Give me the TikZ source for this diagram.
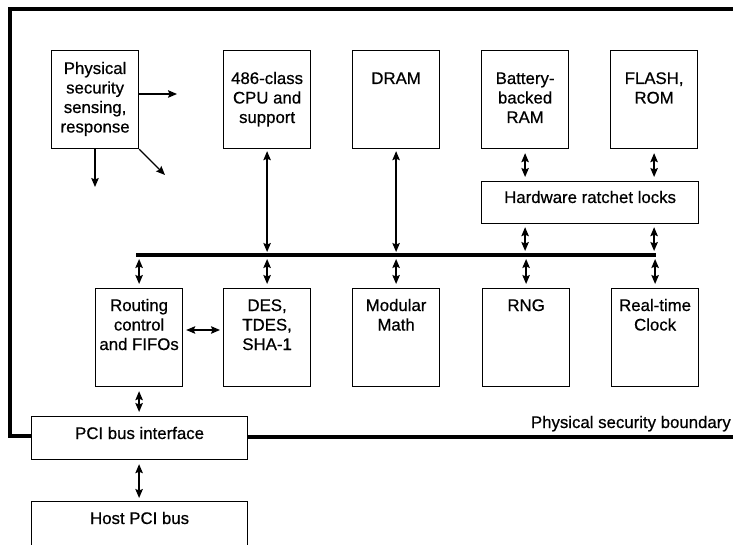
\documentclass[tikz,border=0pt]{standalone}
\usepackage{fontspec}
\setmainfont{Liberation Sans}
\newfontfamily\labelfont[FakeBold=0.6]{Liberation Sans}
\usetikzlibrary{arrows.meta,calc}

\begin{document}
\begin{tikzpicture}[x=1pt,y=-1pt,
  box/.style={draw, line width=1.2pt, inner sep=0pt, anchor=north west,
              minimum width=87pt, minimum height=98pt},
  widebox/.style={box, minimum width=216pt, minimum height=43pt},
  lbl/.style={inner sep=0pt, align=center, anchor=base,
              font=\labelfont\fontsize{16.8}{19.5}\selectfont},
  arr/.style={line width=1.3pt, -{Stealth[length=9pt,width=7.5pt,inset=1.5pt]}},
  link/.style={line width=1.3pt, {Stealth[length=9pt,width=7.5pt,inset=1.5pt]}-{Stealth[length=9pt,width=7.5pt,inset=1.5pt]},
               shorten <=4pt, shorten >=4pt},
  thick line/.style={line width=4pt}
]
\useasboundingbox (0,0) rectangle (733,545);
\clip (0,0) rectangle (733,545);

% upper row of modules
\node[box] (sense) at (51,50) {};
\node[box] (cpu)   at (223,50) {};
\node[box] (dram)  at (352,50) {};
\node[box] (bbram) at (481,50) {};
\node[box] (flash) at (610,50) {};

% labels: the base anchor sits on the baseline of the last line
\node[lbl] (sense-t) at ($(sense.north)+(0,82.5)$) {Physical\\security\\sensing,\\response};
\node[lbl] (cpu-t)   at ($(cpu.north)+(0,73)$)     {486-class\\CPU and\\support};
\node[lbl] (dram-t)  at ($(dram.north)+(0,34)$)    {DRAM};
\node[lbl] (bbram-t) at ($(bbram.north)+(0,73)$)   {Battery-\\backed\\RAM};
\node[lbl] (flash-t) at ($(flash.north)+(0,53.5)$) {FLASH,\\ROM};

% ratchet locks in front of the non-volatile memories
\node[box, minimum width=217pt, minimum height=42pt] (ratchet) at (481,181) {};
\node[lbl] (ratchet-t) at ($(ratchet.north)+(0,22)$) {Hardware ratchet locks};

% lower row of modules
\node[box] (route) at (95,288) {};
\node[box] (des)   at (223,288) {};
\node[box] (mmath) at (352,288) {};
\node[box] (rng)   at (482,288) {};
\node[box] (rtc)   at (611,288) {};

\node[lbl] (route-t) at ($(route.north)+(0,62)$)   {Routing\\control\\and FIFOs};
\node[lbl] (des-t)   at ($(des.north)+(0,62)$)     {DES,\\TDES,\\SHA-1};
\node[lbl] (mmath-t) at ($(mmath.north)+(0,42.5)$) {Modular\\Math};
\node[lbl] (rng-t)   at ($(rng.north)+(0,23)$)     {RNG};
\node[lbl] (rtc-t)   at ($(rtc.north)+(0,42.5)$)   {Real-time\\Clock};

% PCI interface and host bus
\node[widebox] (pci)  at (31,416) {};
\node[lbl] (pci-t) at ($(pci.north)+(0,23)$) {PCI bus interface};
\node[widebox, minimum height=70pt] (host) at (31,501) {};
\node[lbl] (host-t) at ($(host.north)+(0,23)$) {Host PCI bus};

% internal bus
\coordinate (busL) at (136,255);
\coordinate (busR) at (656,255);
\draw[thick line] (busL) -- (busR);

% security boundary
\coordinate (bndL) at (10,436);
\coordinate (bndTL) at (10,9);
\coordinate (bndTR) at (745,9);
\coordinate (bndR) at (745,437);
\draw[thick line] (pci.west |- bndL) -- (bndL) -- (bndTL) -- (bndTR);
\draw[thick line] (pci.east |- bndR) -- (bndR);
\node[lbl, anchor=base east] (bnd-t) at (731,428) {Physical security boundary};

% sensing outputs
\coordinate (s1) at (177,94);
\coordinate (s2) at (95,187);
\coordinate (s3) at (165,175);
\draw[arr] (sense.east |- s1) -- (s1);
\draw[arr] (sense.south -| s2) -- (s2);
\draw[arr] (sense.south east) -- (s3);

% memories and CPU to the bus
\draw[link, shorten <=2pt, shorten >=3pt] (cpu.south) -- (cpu.south |- busL);
\draw[link, shorten <=2pt, shorten >=3pt] (dram.south) -- (dram.south |- busL);
\draw[link] (bbram.south) -- (bbram.south |- ratchet.north);
\draw[link] (flash.south) -- (flash.south |- ratchet.north);
\draw[link, shorten <=3pt] (ratchet.south -| bbram.south) -- (bbram.south |- busL);
\draw[link, shorten <=3pt] (ratchet.south -| flash.south) -- (flash.south |- busL);

% bus to the lower modules
\draw[link] (route.north |- busL) -- (route.north);
\draw[link] (des.north |- busL) -- (des.north);
\draw[link] (mmath.north |- busL) -- (mmath.north);
\draw[link] (rng.north |- busL) -- (rng.north);
\draw[link] (rtc.north |- busL) -- (rtc.north);

% data path
\coordinate (dp) at (0,330);
\draw[link, shorten <=3pt, shorten >=3pt] (route.east |- dp) -- (des.west |- dp);
\draw[link] (route.south) -- (pci.north -| route.south);
\draw[link, shorten >=3pt] (pci.south -| route.south) -- (host.north -| route.south);
\end{tikzpicture}
\end{document}
